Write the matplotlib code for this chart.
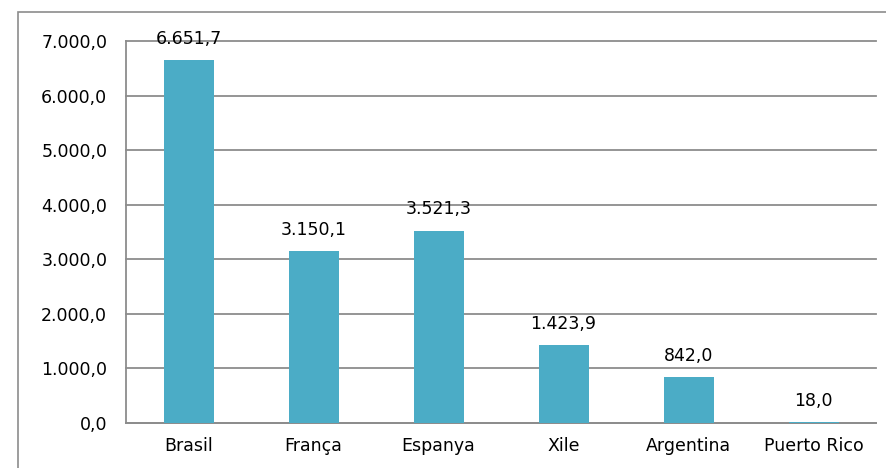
import matplotlib.pyplot as plt
from matplotlib.patches import Rectangle

countries = ['Brasil', 'França', 'Espanya', 'Xile', 'Argentina', 'Puerto Rico']
values = [6651.7, 3150.1, 3521.3, 1423.9, 842.0, 18.0]
yticks = [0, 1000, 2000, 3000, 4000, 5000, 6000, 7000]

plt.rcParams['font.family'] = ['DejaVu Sans']
FS = 12.5


def fmt(v):
    s = f"{v:,.1f}"
    return s.replace(',', 'X').replace('.', ',').replace('X', '.')


fig = plt.figure(figsize=(8.86, 4.68), dpi=100)
fig.patches.append(Rectangle((18 / 886, -0.1), 1.2, 1 - 12 / 468 + 0.1,
                             transform=fig.transFigure, fill=False,
                             edgecolor='#8c8c8c', linewidth=1.2))

ax = fig.add_axes([126 / 886, 45 / 468, 750 / 886, 382 / 468])
x = range(len(countries))
ax.bar(x, values, width=0.4, color='#4BACC6', zorder=3)

for xi, v in zip(x, values):
    ax.annotate(fmt(v), (xi, v), xytext=(0, 9), textcoords='offset points',
                ha='center', va='bottom', fontsize=FS, color='#000000',
                zorder=4, annotation_clip=False)

ax.set_xlim(-0.5, len(countries) - 0.5)
ax.set_ylim(0, 7000)
ax.set_yticks(yticks)
ax.set_yticklabels([fmt(t) for t in yticks], fontsize=FS)
ax.set_xticks(list(x))
ax.set_xticklabels(countries, fontsize=FS)
ax.tick_params(axis='x', length=0, pad=10)
ax.tick_params(axis='y', length=0, pad=13.5)
ax.grid(axis='y', color='#8c8c8c', linewidth=1.3, zorder=0)
for line in ax.get_ygridlines():
    line.set_clip_on(False)
for side in ['top', 'right']:
    ax.spines[side].set_visible(False)
ax.spines['left'].set_color('#8c8c8c')
ax.spines['bottom'].set_color('#8c8c8c')
ax.spines['left'].set_linewidth(1.3)
ax.spines['bottom'].set_linewidth(1.3)

fig.savefig('out.png', dpi=100)
